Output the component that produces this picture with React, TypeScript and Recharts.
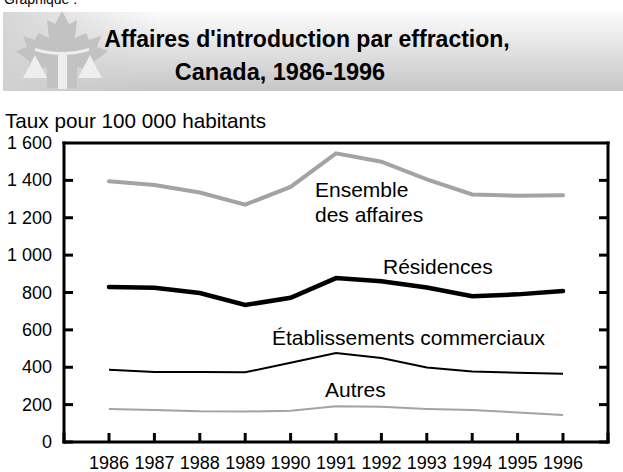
import React from 'react';
import { CartesianGrid, Line, LineChart, XAxis, YAxis } from 'recharts';

const years = ['1986', '1987', '1988', '1989', '1990', '1991', '1992', '1993', '1994', '1995', '1996'];
const ensemble = [1395, 1375, 1335, 1270, 1365, 1545, 1500, 1405, 1325, 1318, 1320];
const residences = [830, 826, 797, 733, 772, 877, 860, 827, 780, 790, 808];
const commerciaux = [386, 374, 375, 373, 424, 476, 449, 399, 377, 371, 365];
const autres = [176, 171, 164, 163, 167, 191, 188, 177, 171, 158, 145];
const yTicks = [0, 200, 400, 600, 800, 1000, 1200, 1400, 1600];

const data = years.map((year, i) => ({
  year,
  ensemble: ensemble[i],
  residences: residences[i],
  commerciaux: commerciaux[i],
  autres: autres[i],
}));

const FONT = '"Liberation Sans", Arial, sans-serif';
const fmt = (v: number) => (v >= 1000 ? `${Math.floor(v / 1000)} ${String(v % 1000).padStart(3, '0')}` : String(v));
const TICK = 9;

function LeftTick(props: any) {
  const { x, y, payload } = props;
  return (
    <text x={x} y={y + 6} textAnchor="end" fontSize={18} fontFamily={FONT} fill="#000">
      {fmt(payload.value)}
    </text>
  );
}

function BottomTick(props: any) {
  const { x, y, payload } = props;
  return (
    <text x={x} y={y + 18} textAnchor="middle" fontSize={18} fontFamily={FONT} fill="#000">
      {payload.value}
    </text>
  );
}

// grid lines become short inward ticks on both sides; the top one closes the frame
function HLine(props: any) {
  const { x1, x2, y1 } = props;
  if (Math.abs(y1 - 143) < 1) {
    return <line x1={x1} x2={x2} y1={y1} y2={y1} stroke="#000" strokeWidth={3} strokeLinecap="square" />;
  }
  return (
    <g>
      <line x1={x1} x2={x1 + TICK} y1={y1} y2={y1} stroke="#000" strokeWidth={3} />
      <line x1={x2 - TICK} x2={x2} y1={y1} y2={y1} stroke="#000" strokeWidth={3} />
    </g>
  );
}

function VLine(props: any) {
  const { x1, y2 } = props;
  return <line x1={x1} x2={x1} y1={y2 - TICK} y2={y2} stroke="#000" strokeWidth={3} />;
}

const axisLine = { stroke: '#000', strokeWidth: 3, strokeLinecap: 'square' as const };

function Header() {
  const leaf =
    '62,11 55,24 47,20 49,38 38,33 35,40 23,36 27,47 16,51 30,62 27,71 47,67 47,88 77,88 77,67 97,71 94,62 108,51 97,47 101,36 89,40 86,33 75,38 77,20 69,24';
  return (
    <svg width={623} height={138} style={{ position: 'absolute', left: 0, top: 0 }}>
      <defs>
        <linearGradient id="bandV" x1="0" y1="0" x2="0" y2="1">
          <stop offset="0" stopColor="#fbfbfb" />
          <stop offset="1" stopColor="#c6c6c6" />
        </linearGradient>
        <linearGradient id="bandH" x1="0" y1="0" x2="1" y2="0">
          <stop offset="0" stopColor="#d2d2d2" stopOpacity={0.9} />
          <stop offset="0.25" stopColor="#d2d2d2" stopOpacity={0} />
        </linearGradient>
      </defs>
      <text x={4} y={4} fontSize={14} fontFamily={FONT} fill="#000">
        Graphique :
      </text>
      <rect x={3} y={12} width={620} height={79} fill="url(#bandV)" />
      <rect x={3} y={12} width={620} height={79} fill="url(#bandH)" />
      <polygon points={leaf} fill="#c2c2c2" />
      <path d="M35,48 Q62,56 89,48 L89,51 Q62,59 35,51 Z" fill="#eeeeee" />
      <rect x={58} y={55} width={9} height={34} fill="#eeeeee" />
      <polygon points="35,55 23,78 47,78" fill="#eeeeee" />
      <polygon points="90,55 78,78 102,78" fill="#eeeeee" />
      <text x={307} y={47} textAnchor="middle" fontSize={23} fontWeight="bold" fontFamily={FONT} fill="#000">
        Affaires d'introduction par effraction,
      </text>
      <text x={280} y={80} textAnchor="middle" fontSize={23.5} fontWeight="bold" fontFamily={FONT} fill="#000">
        Canada, 1986-1996
      </text>
      <text x={5} y={128} fontSize={20.7} fontFamily={FONT} fill="#000">
        Taux pour 100 000 habitants
      </text>
    </svg>
  );
}

function Labels() {
  const t = { fontSize: 21, fontFamily: FONT, fill: '#000' };
  return (
    <svg width={623} height={472} style={{ position: 'absolute', left: 0, top: 0, pointerEvents: 'none' }}>
      <text x={315} y={197} {...t}>Ensemble</text>
      <text x={315} y={222} {...t}>des affaires</text>
      <text x={383} y={274} {...t}>Résidences</text>
      <text x={272} y={345} {...t}>Établissements commerciaux</text>
      <text x={325} y={397} {...t}>Autres</text>
    </svg>
  );
}

export default function App() {
  return (
    <div style={{ position: 'absolute', left: 0, top: 0, width: 623, height: 472, background: '#fff' }}>
      <LineChart width={623} height={472} data={data} margin={{ top: 143, right: 0, bottom: 0, left: 0 }}>
        <CartesianGrid horizontal={<HLine />} vertical={<VLine />} stroke="#000" />
        <XAxis
          dataKey="year"
          padding={{ left: 45, right: 45 }}
          height={30}
          tickSize={0}
          tickMargin={9}
          axisLine={axisLine}
          tickLine={false}
          tick={<BottomTick />}
          interval={0}
        />
        <YAxis
          type="number"
          domain={[0, 1600]}
          ticks={yTicks}
          width={64}
          tickSize={0}
          tickMargin={12}
          axisLine={axisLine}
          tickLine={false}
          tick={<LeftTick />}
          interval={0}
        />
        <YAxis
          yAxisId="right"
          orientation="right"
          type="number"
          domain={[0, 1600]}
          ticks={yTicks}
          width={15}
          tickSize={0}
          axisLine={axisLine}
          tickLine={false}
          tick={false}
        />
        <Line dataKey="ensemble" stroke="#a3a3a3" strokeWidth={4} dot={false} strokeLinecap="round" isAnimationActive={false} />
        <Line dataKey="residences" stroke="#000" strokeWidth={4.5} dot={false} strokeLinecap="round" isAnimationActive={false} />
        <Line dataKey="commerciaux" stroke="#000" strokeWidth={2} dot={false} isAnimationActive={false} />
        <Line dataKey="autres" stroke="#a3a3a3" strokeWidth={2} dot={false} isAnimationActive={false} />
      </LineChart>
      <Header />
      <Labels />
    </div>
  );
}
